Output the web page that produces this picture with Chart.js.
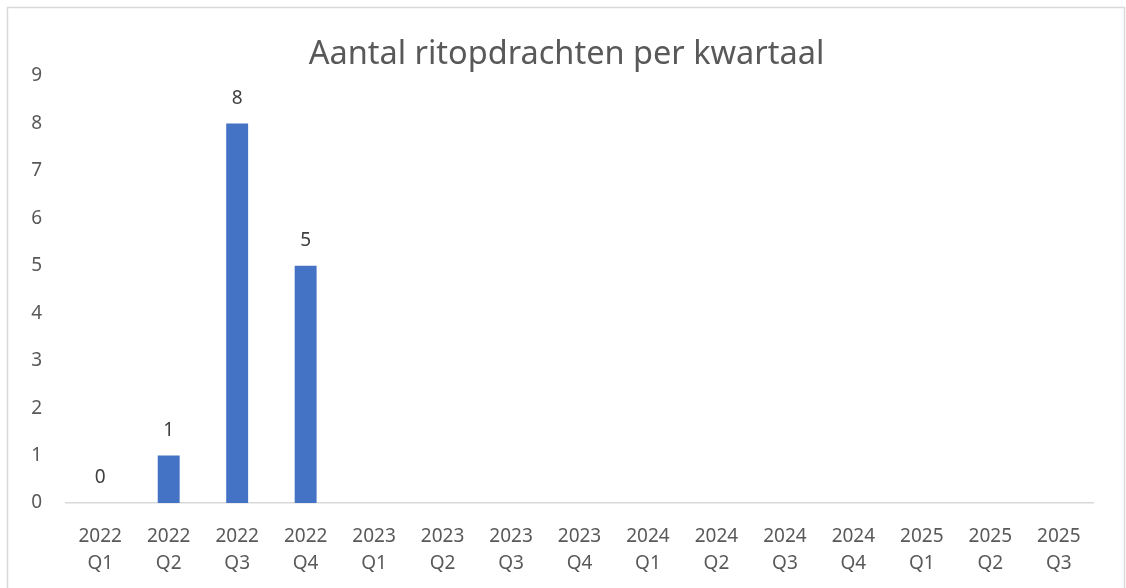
<!DOCTYPE html>
<html>
<head>
<meta charset="utf-8">
<script src="https://cdn.jsdelivr.net/npm/chart.js@4"></script>
<style>
  html, body { margin: 0; padding: 0; background: #fff; }
  #wrap { width: 1126px; height: 588px; position: relative; }
</style>
</head>
<body>
<div id="wrap"><canvas id="bar-chartcanvas"></canvas></div>
<script>
let quarters = ["2022 Q1", "2022 Q2", "2022 Q3", "2022 Q4", "2023 Q1", "2023 Q2", "2023 Q3", "2023 Q4",
    "2024 Q1", "2024 Q2", "2024 Q3", "2024 Q4", "2025 Q1", "2025 Q2", "2025 Q3"]
let ritopdrachten = [0, 1, 8, 5, null, null, null, null, null, null, null, null, null, null, null]
let yTicks = [0, 1, 2, 3, 4, 5, 6, 7, 8, 9]

const FONT = "'Noto Sans', sans-serif"

// outer frame like the office chart border
let framePlugin = {
    id: "frame",
    beforeDraw(chart) {
        let c = chart.ctx
        c.save()
        c.strokeStyle = "#d9d9d9"
        c.lineWidth = 1.5
        c.strokeRect(7.5, 7.5, chart.width - 9, chart.height + 20)
        c.restore()
    }
}

// value labels above the bars
let valuePlugin = {
    id: "values",
    afterDatasetsDraw(chart) {
        let c = chart.ctx
        let meta = chart.getDatasetMeta(0)
        c.save()
        c.font = "19px " + FONT
        c.fillStyle = "#404040"
        c.textAlign = "center"
        c.textBaseline = "middle"
        meta.data.forEach((bar, i) => {
            let v = chart.data.datasets[0].data[i]
            if (v === null) return
            c.fillText(String(v), bar.x, bar.y - 25)
        })
        c.restore()
    }
}

let ctx = document.getElementById("bar-chartcanvas")

let chart = new Chart(ctx, {
    type: "bar",
    data: {
        labels: quarters.map(q => q.split(" ")),
        datasets: [{
            label: "Aantal",
            data: ritopdrachten,
            backgroundColor: "#4472C4",
            barPercentage: 0.64,
            categoryPercentage: 0.5
        }]
    },
    options: {
        responsive: true,
        maintainAspectRatio: false,
        animation: false,
        layout: { padding: { left: 7, right: 0, top: 0, bottom: 0 } },
        plugins: {
            legend: { display: false },
            tooltip: { enabled: false },
            title: {
                display: true,
                text: "Aantal ritopdrachten per kwartaal",
                color: "#595959",
                font: { family: FONT, size: 32.5, weight: "normal" },
                padding: { top: 35, bottom: 2 }
            }
        },
        scales: {
            x: {
                afterFit(scale) { scale.height = 85 },
                grid: { display: false, drawTicks: false },
                border: { display: true, color: "#d9d9d9", width: 1.5 },
                ticks: {
                    color: "#595959",
                    font: { family: FONT, size: 19, lineHeight: 1.42 },
                    padding: 20,
                    maxRotation: 0,
                    autoSkip: false
                }
            },
            y: {
                min: 0,
                max: 9,
                afterFit(scale) { scale.width = 59 },
                afterBuildTicks(scale) { scale.ticks = yTicks.map(v => ({ value: v })) },
                grid: { display: false, drawTicks: false },
                border: { display: false },
                ticks: {
                    color: "#595959",
                    font: { family: FONT, size: 19 },
                    padding: 24
                }
            },
            // empty right axis, only keeps the right margin so the title stays centred
            yRight: {
                position: "right",
                min: 0,
                max: 9,
                afterFit(scale) { scale.width = 33 },
                grid: { display: false, drawTicks: false },
                border: { display: false },
                ticks: { display: false }
            }
        }
    },
    plugins: [framePlugin, valuePlugin]
})
</script>
</body>
</html>
